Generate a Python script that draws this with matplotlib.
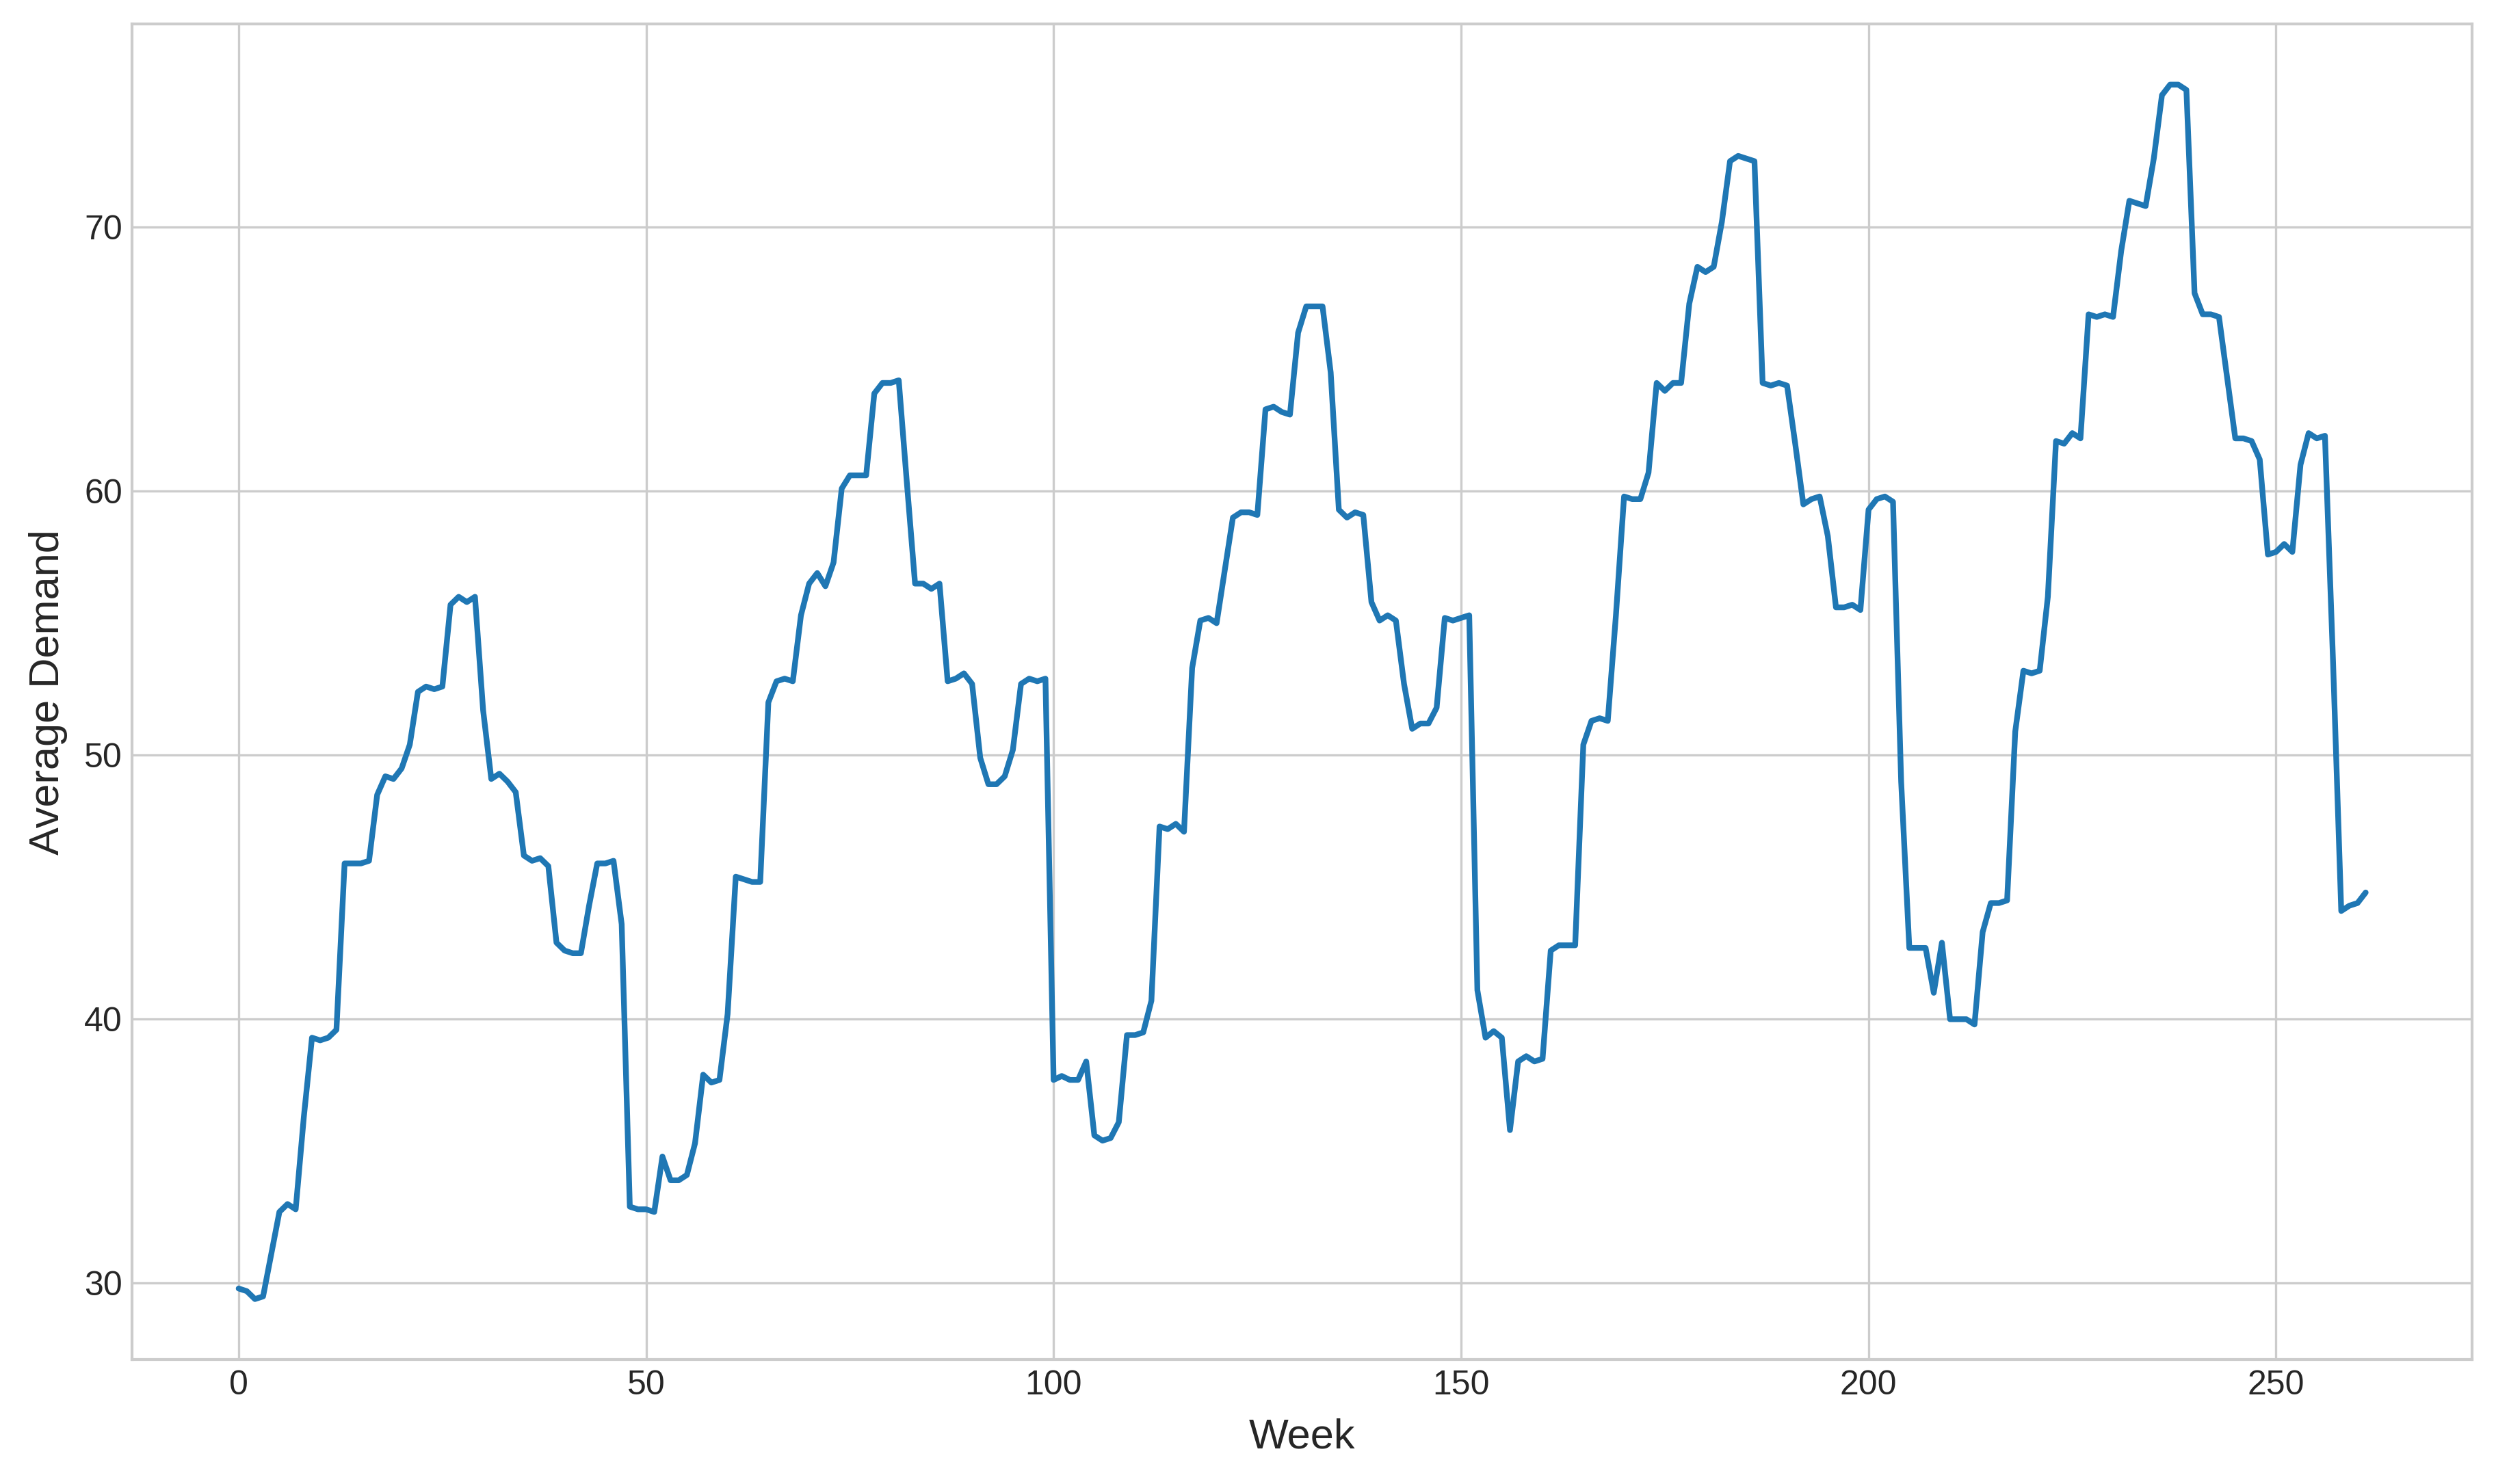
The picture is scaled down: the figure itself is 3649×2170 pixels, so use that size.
import numpy as np
import matplotlib
matplotlib.use("Agg")
import matplotlib.pyplot as plt

# Weekly average demand (weeks 0..261)
demand_0_49 = [
    29.8, 29.7, 29.4, 29.5, 31.1, 32.7, 33.0, 32.8, 36.3, 39.3,
    39.2, 39.3, 39.6, 45.9, 45.9, 45.9, 46.0, 48.5, 49.2, 49.1,
    49.5, 50.4, 52.4, 52.6, 52.5, 52.6, 55.7, 56.0, 55.8, 56.0,
    51.7, 49.1, 49.3, 49.0, 48.6, 46.2, 46.0, 46.1, 45.8, 42.9,
    42.6, 42.5, 42.5, 44.3, 45.9, 45.9, 46.0, 43.6, 32.9, 32.8,
]
demand_50_99 = [
    32.8, 32.7, 34.8, 33.9, 33.9, 34.1, 35.3, 37.9, 37.6, 37.7,
    40.2, 45.4, 45.3, 45.2, 45.2, 52.0, 52.8, 52.9, 52.8, 55.3,
    56.5, 56.9, 56.4, 57.3, 60.1, 60.6, 60.6, 60.6, 63.7, 64.1,
    64.1, 64.2, 60.3, 56.5, 56.5, 56.3, 56.5, 52.8, 52.9, 53.1,
    52.7, 49.9, 48.9, 48.9, 49.2, 50.2, 52.7, 52.9, 52.8, 52.9,
]
demand_100_149 = [
    37.7, 37.85, 37.7, 37.7, 38.4, 35.6, 35.4, 35.5, 36.1, 39.4,
    39.4, 39.5, 40.7, 47.3, 47.2, 47.4, 47.1, 53.3, 55.1, 55.2,
    55.0, 57.0, 59.0, 59.2, 59.2, 59.1, 63.1, 63.2, 63.0, 62.9,
    66.0, 67.0, 67.0, 67.0, 64.5, 59.3, 59.0, 59.2, 59.1, 55.8,
    55.1, 55.3, 55.1, 52.7, 51.0, 51.2, 51.2, 51.8, 55.2, 55.1,
]
demand_150_199 = [
    55.2, 55.3, 41.1, 39.3, 39.55, 39.3, 35.8, 38.4, 38.6, 38.4,
    38.5, 42.6, 42.8, 42.8, 42.8, 50.4, 51.3, 51.4, 51.3, 55.3,
    59.8, 59.7, 59.7, 60.7, 64.1, 63.8, 64.1, 64.1, 67.1, 68.5,
    68.3, 68.5, 70.2, 72.5, 72.7, 72.6, 72.5, 64.1, 64.0, 64.1,
    64.0, 61.8, 59.5, 59.7, 59.8, 58.3, 55.6, 55.6, 55.7, 55.5,
]
demand_200_261 = [
    59.3, 59.7, 59.8, 59.6, 49.0, 42.7, 42.7, 42.7, 41.0, 42.9,
    40.0, 40.0, 40.0, 39.8, 43.3, 44.4, 44.4, 44.5, 50.9, 53.2,
    53.1, 53.2, 56.0, 61.9, 61.8, 62.2, 62.0, 66.7, 66.6, 66.7,
    66.6, 69.1, 71.0, 70.9, 70.8, 72.6, 75.0, 75.4, 75.4, 75.2,
    67.5, 66.7, 66.7, 66.6, 64.3, 62.0, 62.0, 61.9, 61.2, 57.6,
    57.7, 58.0, 57.7, 61.0, 62.2, 62.0, 62.1, 53.5, 44.1, 44.3,
    44.4, 44.8,
]

demand = np.array(demand_0_49 + demand_50_99 + demand_100_149
                  + demand_150_199 + demand_200_261)
weeks = np.arange(len(demand))

plt.style.use("seaborn-v0_8-whitegrid")
plt.rcParams["font.family"] = ["Liberation Sans", "DejaVu Sans"]

fig, ax = plt.subplots(figsize=(3649 / 300, 2170 / 300))
fig.subplots_adjust(left=0.053, right=0.9904, top=0.9839, bottom=0.0837)

ax.plot(weeks, demand, color="#1f77b4", linewidth=2.0)

ax.set_xlabel("Week", fontsize=14.7, labelpad=5.8)
ax.set_ylabel("Average Demand", fontsize=14.7, labelpad=5.8)
ax.tick_params(axis="both", labelsize=12)

for spine in ax.spines.values():
    spine.set_visible(True)
    spine.set_color("#cccccc")
    spine.set_linewidth(1.0)

fig.savefig("out.png", dpi=300)
plt.close(fig)
